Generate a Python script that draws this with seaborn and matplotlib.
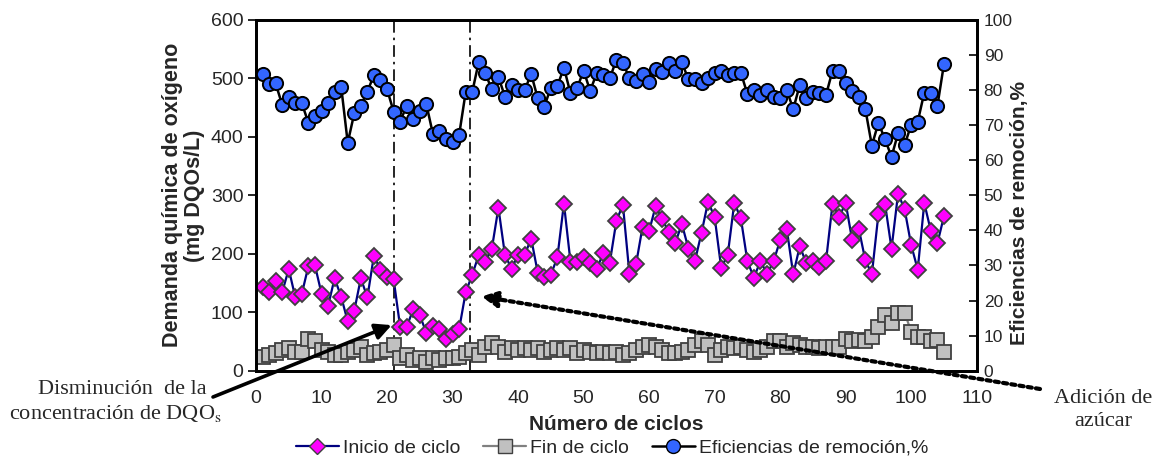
import numpy as np
import pandas as pd
import matplotlib
matplotlib.use("Agg")
import matplotlib.pyplot as plt
from matplotlib import font_manager
from matplotlib.lines import Line2D
import seaborn as sns

# ---------------- data ----------------
cycles = list(range(1, 106))
inicio = [143.6, 134.5, 153.8, 134.5, 173.8, 125.5, 132, 179, 180, 132,
          111, 158, 126.5, 84.4, 102.6, 158, 125.5, 197, 172, 159.6,
          157, 75, 75, 105, 94.6, 65, 76, 70.7, 54, 62,
          70.7, 134, 164, 198, 186, 209, 278.6, 198, 174.4, 198,
          198, 226, 168, 159.6, 164, 194, 286, 186, 186, 195,
          185, 174, 200.7, 185, 256, 284, 165, 182, 246, 239,
          281.5, 259, 237.6, 219, 251, 209, 188, 236, 289, 263,
          176, 198, 287, 261, 187.5, 159, 188, 165, 187.5, 223,
          243, 165, 213, 183.6, 188, 176.7, 187.5, 286, 263, 287,
          223, 243, 189, 165, 268, 286, 209, 303, 276, 215,
          173, 287, 239, 218, 264]
fin = [24, 27, 30, 35, 38, 32, 32, 55, 50, 35,
       32, 27, 27, 32, 35, 41, 27, 30, 32, 35,
       44, 21, 27, 18, 21, 15, 21, 18, 21, 21,
       24, 30, 35, 27, 41, 47, 41, 32, 38, 35,
       38, 35, 38, 32, 35, 38, 35, 38, 30, 35,
       32, 30, 32, 30, 32, 27, 30, 35, 41, 44,
       41, 35, 30, 30, 32, 35, 44, 50, 44, 27,
       35, 41, 38, 41, 35, 32, 35, 41, 50, 50,
       41, 47, 44, 41, 40, 38, 40, 41, 41, 55,
       50, 52, 50, 58, 75, 95, 81, 98, 99, 67,
       58, 58, 50, 52, 32]
eficiencia = [84.6, 81.7, 81.9, 75.8, 78.1, 76.2, 76.2, 70.7, 72.6, 74.1,
              76.4, 79.4, 81.0, 65.0, 73.4, 75.6, 79.6, 84.3, 82.9, 80.3,
              73.9, 71.0, 75.6, 71.8, 74.1, 76.0, 67.5, 68.4, 66.0, 65.1,
              67.2, 79.4, 79.4, 88.1, 84.8, 80.2, 83.8, 78.1, 81.5, 80.0,
              80.0, 84.6, 77.7, 75.3, 80.7, 81.2, 86.4, 79.1, 80.5, 85.6,
              79.8, 84.8, 84.3, 83.4, 88.6, 87.8, 83.4, 82.7, 84.5, 82.2,
              85.9, 85.3, 87.7, 85.5, 87.9, 83.1, 83.1, 82.0, 83.4, 85.0,
              85.5, 84.3, 84.8, 85.0, 78.9, 80.0, 78.6, 80.0, 78.0, 77.7,
              80.0, 74.6, 81.5, 77.7, 79.4, 79.1, 78.6, 85.6, 85.5, 82.1,
              79.8, 78.1, 74.6, 64.2, 70.7, 66.0, 61.0, 67.7, 64.4, 70.1,
              71.0, 79.3, 79.3, 75.5, 87.4]
eventos = [21, 32.7]          # vertical dash-dot markers (cycle numbers)
left_ticks = [0, 100, 200, 300, 400, 500, 600]
right_ticks = list(range(0, 101, 10))
x_ticks = list(range(0, 111, 10))
series_names = ["Inicio de ciclo", "Fin de ciclo", "Eficiencias de remoción,%"]

df = pd.DataFrame({"ciclo": cycles, "inicio": inicio, "fin": fin, "ef": eficiencia})

# ---------------- style ----------------
sns.set_style("white")
available = {f.name for f in font_manager.fontManager.ttflist}
sans = "Liberation Sans" if "Liberation Sans" in available else "DejaVu Sans"
narrow = "Liberation Sans Narrow" if "Liberation Sans Narrow" in available else sans
serif = "Liberation Serif" if "Liberation Serif" in available else "DejaVu Serif"
plt.rcParams["font.family"] = [sans, "DejaVu Sans"]
plt.rcParams["mathtext.fontset"] = "stix"

W, H = 1159, 461
fig = plt.figure(figsize=(W / 100, H / 100), dpi=100)
L, R, T, B = 256, 976.7, 20, 370.7
ax = fig.add_axes([L / W, 1 - B / H, (R - L) / W, (B - T) / H])
ax2 = ax.twinx()

# ---------------- series ----------------
sns.lineplot(data=df, x="ciclo", y="inicio", ax=ax, color="#000080", lw=1.6,
             marker="D", markersize=8.5, markerfacecolor="#FF00FF",
             markeredgecolor="#404040", markeredgewidth=1.3, zorder=3)
sns.lineplot(data=df, x="ciclo", y="fin", ax=ax, color="#808080", lw=1.6,
             marker="s", markersize=10, markerfacecolor="#C0C0C0",
             markeredgecolor="#404040", markeredgewidth=1.3, zorder=2)
sns.lineplot(data=df, x="ciclo", y="ef", ax=ax2, color="black", lw=1.8,
             marker="o", markersize=9.5, markerfacecolor="#3366FF",
             markeredgecolor="black", markeredgewidth=1.4, zorder=3)

for ev in eventos:
    ax.axvline(ev, color="black", lw=1.2, dashes=(7, 3, 1.5, 3), zorder=1)

# ---------------- axes ----------------
ax.set_xlim(0, 110)
ax.set_ylim(0, 600)
ax2.set_ylim(0, 100)
ax.set_xticks(x_ticks)
ax.set_yticks(left_ticks)
ax2.set_yticks(right_ticks)
ax.set_xticklabels([str(t) for t in x_ticks], fontsize=14, family=narrow)
ax.set_yticklabels([str(t) for t in left_ticks], fontsize=14)
ax2.set_yticklabels([str(t) for t in right_ticks], fontsize=12.5)
ax.tick_params(axis="both", direction="out", length=6, width=1.2, color="black", pad=3)
ax.tick_params(axis="x", pad=8)
ax2.tick_params(axis="y", direction="in", length=6, width=1.2, color="black", pad=5)
for a in (ax, ax2):
    for s in a.spines.values():
        s.set_linewidth(2)
        s.set_color("black")
    a.grid(False)

ax.set_xlabel("")
fig.text((L + R) / 2 / W, 1 - 424 / H, "Número de ciclos", ha="center", va="center",
         fontsize=15, fontweight="bold", family=narrow)
ax.set_ylabel("Demanda química de oxígeno\n(mg DQOs/L)", fontsize=15.5,
              fontweight="bold", linespacing=1.05)
ax.yaxis.set_label_coords((205 - L) / (R - L), 0.5)
ax2.set_ylabel("Eficiencias de remoción,%", fontsize=15, fontweight="bold")
ax2.yaxis.set_label_coords((1010 - L) / (R - L), 0.45)

# ---------------- annotations ----------------
ax.annotate("", xy=(20.7, 78), xycoords="data", xytext=(213, H - 397),
            textcoords="figure pixels", annotation_clip=False,
            arrowprops=dict(arrowstyle="-|>", color="black", lw=2.6,
                            mutation_scale=24, shrinkA=0, shrinkB=0))
ax.annotate("", xy=(34.4, 127), xycoords="data", xytext=(1040, H - 389),
            textcoords="figure pixels", annotation_clip=False,
            arrowprops=dict(arrowstyle="-|>", color="black", lw=3,
                            linestyle=(0, (1, 1)), mutation_scale=24,
                            shrinkA=0, shrinkB=0))

fig.text(122 / W, 1 - 390 / H, "Disminución  de la", ha="center", va="center",
         fontsize=16, family=serif)
fig.text(115 / W, 1 - 413 / H, "concentración de DQO$_\\mathrm{s}$", ha="center",
         va="center", fontsize=16, family=serif)
fig.text(1103 / W, 1 - 398 / H, "Adición de", ha="center", va="center",
         fontsize=16, family=serif)
fig.text(1103 / W, 1 - 421 / H, "azúcar", ha="center", va="center",
         fontsize=16, family=serif)

# ---------------- legend ----------------
handles = [
    Line2D([], [], color="#000080", lw=1.6, marker="D", markersize=8,
           markerfacecolor="#FF00FF", markeredgecolor="#404040"),
    Line2D([], [], color="#808080", lw=1.6, marker="s", markersize=10,
           markerfacecolor="#C0C0C0", markeredgecolor="#404040"),
    Line2D([], [], color="black", lw=1.8, marker="o", markersize=10,
           markerfacecolor="#3366FF", markeredgecolor="black"),
]
fig.legend(handles, series_names, loc="center", bbox_to_anchor=(612 / W, 1 - 448 / H),
           ncol=3, frameon=False, prop={"family": narrow, "size": 14},
           handlelength=2.2, handletextpad=0.2, columnspacing=1.2)

fig.savefig("out.png", dpi=100)
